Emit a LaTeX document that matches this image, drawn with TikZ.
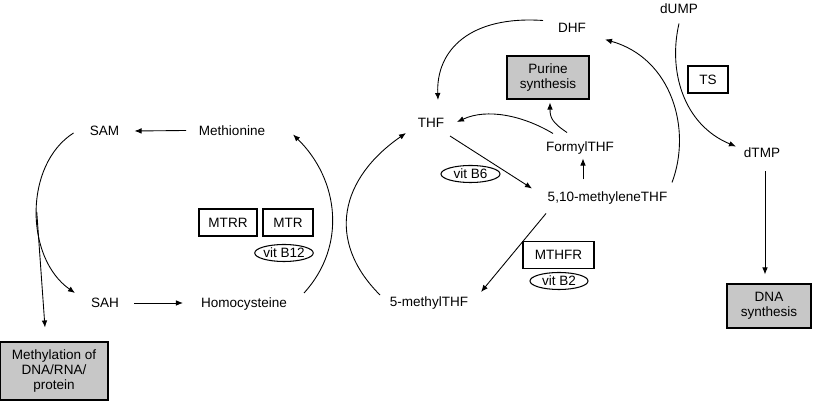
\documentclass[tikz,border=0pt]{standalone}
\usepackage{fontspec}
\setmainfont{Liberation Sans}
\usetikzlibrary{arrows.meta,calc,shapes.geometric}

\begin{document}
\begin{tikzpicture}[x=0.02cm,y=-0.02cm,
    font=\fontsize{7.7}{8.8}\selectfont,
    txt/.style={inner sep=0pt,text height=5.5pt,text depth=0pt},
    box/.style={draw,line width=0.6pt,inner sep=0pt,align=center,minimum height=0.54cm},
    graybox/.style={box,fill=black!22},
    vit/.style={draw,ellipse,line width=0.6pt,inner sep=0pt,minimum height=0.34cm},
    arr/.style={line width=0.5pt,-{Latex[length=4pt,width=3.2pt]}}]
  \useasboundingbox (0,0) rectangle (814,404);
  % methionine cycle
  \node[txt] (sam) at (104.5,131) {SAM};
  \node[txt] (met) at (232,130.5) {Methionine};
  \node[txt] (sah) at (105,303) {SAH};
  \node[txt] (hcy) at (244,303) {Homocysteine};
  \node[graybox,minimum width=2.16cm,minimum height=1.16cm] (methyl) at (54,371) {Methylation of\\DNA/RNA/\\protein};
  \node[box,minimum width=1.16cm] (mtrr) at (228,222.5) {MTRR};
  \node[box,minimum width=1.0cm] (mtr) at (288,222.5) {MTR};
  \node[vit,minimum width=1.04cm] (b12) at (284,253) {vit B12};
  % folate cycle
  \node[txt] (thf) at (431,123) {THF};
  \node[txt] (dhf) at (572,27.5) {DHF};
  \node[graybox,minimum width=1.64cm,minimum height=0.86cm] (purine) at (548,77.5) {Purine\\synthesis};
  \node[txt] (formyl) at (580,146.5) {FormylTHF};
  \node[vit,minimum width=1.18cm] (b6) at (470.5,174) {vit B6};
  \node[txt] (mthylene) at (607.5,196.5) {5,10-methyleneTHF};
  \node[box,minimum width=1.42cm] (mthfr) at (558.5,255) {MTHFR};
  \node[vit,minimum width=1.16cm] (b2) at (559,281) {vit B2};
  \node[txt] (mthf) at (429,302) {5-methylTHF};
  % thymidylate
  \node[txt] (dump) at (679,8.5) {dUMP};
  \node[box,minimum width=0.8cm] (ts) at (708,79.5) {TS};
  \node[txt] (dtmp) at (762,152.5) {dTMP};
  \node[graybox,minimum width=1.68cm,minimum height=0.88cm] (dna) at (769,306) {DNA\\synthesis};

  \draw[arr] ($(met)+(-46,0)$) -- ($(sam)+(30,0)$);
  \draw[arr] ($(sah)+(29,0)$) -- ($(hcy)+(-61,0)$);
  \draw[arr] ($(sam)+(-31,2)$) .. controls +(-50,32) and +(-50,-35) .. coordinate[pos=0.5] (branch) ($(sah)+(-30,-10)$);
  \draw[arr] (branch) -- ($(methyl.north)+(-9,-14)$);
  \draw[arr] ($(hcy)+(60,-10)$) .. controls +(43,-47) and +(46,45) .. ($(met)+(61,4)$);
  \draw[arr] ($(mthf)+(-49,-7)$) .. controls +(-55,-55) and +(-65,45) .. ($(thf)+(-25,10)$);
  \draw[arr] ($(dhf)+(-29,-7)$) .. controls +(-73,-5) and +(-2,-50) .. ($(thf)+(7,-23)$);
  \draw[arr] ($(formyl)+(-27,-13)$) .. controls +(-30,-18) and +(30,-14) .. ($(thf)+(26,-1)$);
  \draw[arr] ($(formyl)+(-13,-14)$) .. controls +(-15,-10) and +(0,15) .. ($(purine.south)+(2,3)$);
  \draw[arr] ($(mthylene)+(-24.5,-17)$) -- ($(formyl)+(3,12)$);
  \draw[arr] ($(thf)+(19,13)$) -- ($(mthylene)+(-75.5,-8)$);
  \draw[arr] ($(mthylene)+(-61.5,17)$) -- ($(mthf)+(52,-10)$);
  \draw[arr] ($(mthylene)+(64.5,-14)$) .. controls +(20,-53) and +(67,19) .. ($(dhf)+(33,12)$);
  \draw[arr] ($(dump)+(0,15)$) .. controls +(-11,47) and +(-53,-22) .. ($(dtmp)+(-26,-6)$);
  \draw[arr] ($(dtmp)+(3,19)$) -- ($(dna.north)+(-4,-9)$);
\end{tikzpicture}
\end{document}
